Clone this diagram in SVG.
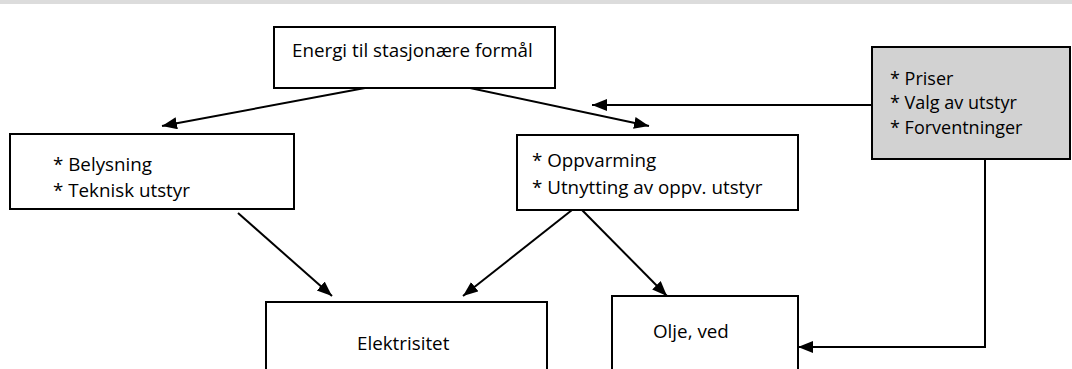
<svg xmlns="http://www.w3.org/2000/svg" width="1072" height="369" viewBox="0 0 1072 369">
<defs>
<style>
.box{fill:#ffffff;stroke:#000000;stroke-width:2}
.gray{fill:#d2d2d2;stroke:#000000;stroke-width:2}
.lbl{font-family:"Open Sans","Noto Sans","Liberation Sans",sans-serif;font-size:18.8px;fill:#000000}
.lbl.sm{font-size:18px}
.conn{fill:none;stroke:#000000;stroke-width:2}
</style>
<marker id="arr" markerUnits="userSpaceOnUse" markerWidth="17" markerHeight="13" refX="15" refY="6" orient="auto">
<path d="M0,0 L15,6 L0,12 z" fill="#000000"/>
</marker>
</defs>
<rect x="0" y="0" width="1072" height="4" fill="#dcdcdc"/>
<g id="connectors">
<line class="conn" x1="365" y1="88" x2="162" y2="126" marker-end="url(#arr)"/>
<line class="conn" x1="470" y1="88" x2="649" y2="126" marker-end="url(#arr)"/>
<line class="conn" x1="872" y1="105" x2="592" y2="105" marker-end="url(#arr)"/>
<line class="conn" x1="238" y1="213" x2="332" y2="296" marker-end="url(#arr)"/>
<line class="conn" x1="572" y1="210" x2="463" y2="296" marker-end="url(#arr)"/>
<line class="conn" x1="582" y1="210" x2="667" y2="296" marker-end="url(#arr)"/>
<polyline class="conn" points="985,159 985,347 798,347" marker-end="url(#arr)"/>
</g>
<g id="node-energi">
<rect class="box" x="274" y="27" width="281" height="61"/>
<text class="lbl" x="292" y="57">Energi til stasjonære formål</text>
</g>
<g id="node-belysning">
<rect class="box" x="10" y="134" width="284" height="75"/>
<text class="lbl" x="53" y="171">* Belysning</text>
<text class="lbl" x="53" y="197">* Teknisk utstyr</text>
</g>
<g id="node-oppvarming">
<rect class="box" x="517" y="135" width="281" height="75"/>
<text class="lbl" x="532" y="167">* Oppvarming</text>
<text class="lbl" x="532" y="193.5">* Utnytting av oppv. utstyr</text>
</g>
<g id="node-faktorer">
<rect class="gray" x="872" y="47" width="198" height="112"/>
<text class="lbl sm" x="890" y="84.5">* Priser</text>
<text class="lbl sm" x="890" y="109">* Valg av utstyr</text>
<text class="lbl sm" x="890" y="133.5">* Forventninger</text>
</g>
<g id="node-elektrisitet">
<rect class="box" x="266" y="302" width="281" height="90"/>
<text class="lbl" x="357" y="350">Elektrisitet</text>
</g>
<g id="node-olje">
<rect class="box" x="612" y="296" width="186" height="90"/>
<text class="lbl" x="653" y="338">Olje, ved</text>
</g>
</svg>
